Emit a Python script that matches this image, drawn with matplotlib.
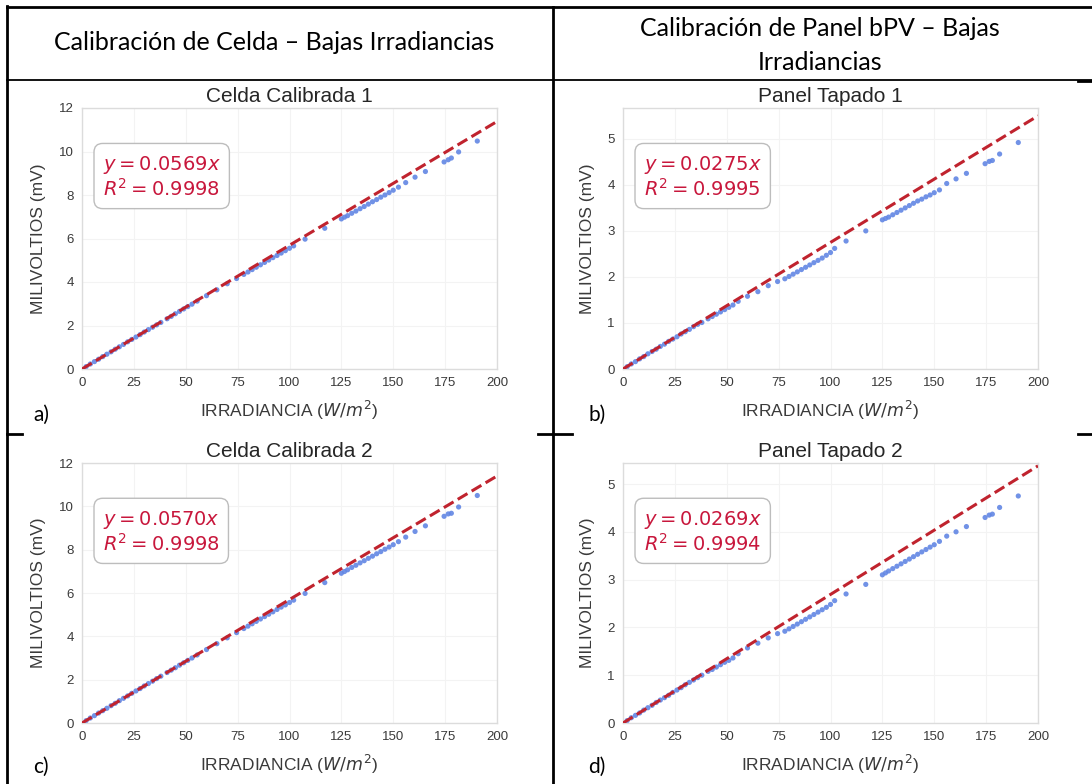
import matplotlib.pyplot as plt
from matplotlib.lines import Line2D

# irradiance (W/m2), same sampling for the four panels
irr = [2, 4, 6, 8, 10, 12, 14, 16, 18, 20, 22, 24, 26, 28, 30, 32, 34, 36, 38,
       41, 43, 45, 47, 49, 51, 53, 55.5, 60, 65, 70, 74.5, 78, 80, 82, 84, 86,
       88, 90, 92, 94, 96, 98, 100, 102, 107.5, 117, 125, 126.5, 128, 130, 132,
       134, 136, 138, 140, 142, 144, 146, 148, 150, 152.5, 156, 160.5, 165.5,
       174.5, 176.5, 178, 181.5, 190.5]

celda1 = [0.11, 0.23, 0.34, 0.45, 0.57, 0.68, 0.79, 0.91, 1.02, 1.13, 1.25, 1.36,
          1.47, 1.58, 1.70, 1.81, 1.92, 2.03, 2.14, 2.31, 2.42, 2.54, 2.65, 2.76,
          2.87, 2.98, 3.12, 3.37, 3.64, 3.92, 4.16, 4.35, 4.46, 4.57, 4.68, 4.79,
          4.90, 5.01, 5.12, 5.22, 5.33, 5.44, 5.55, 5.66, 5.97, 6.47, 6.90, 6.98,
          7.05, 7.16, 7.26, 7.37, 7.47, 7.58, 7.69, 7.79, 7.90, 8.00, 8.11, 8.22,
          8.36, 8.57, 8.82, 9.08, 9.52, 9.62, 9.70, 9.98, 10.48]

panel1 = [0.05, 0.11, 0.16, 0.22, 0.27, 0.33, 0.38, 0.43, 0.49, 0.54, 0.60, 0.65,
          0.70, 0.76, 0.81, 0.86, 0.92, 0.97, 1.01, 1.09, 1.14, 1.19, 1.24, 1.29,
          1.34, 1.39, 1.47, 1.58, 1.68, 1.81, 1.90, 1.96, 2.01, 2.06, 2.11, 2.16,
          2.21, 2.26, 2.31, 2.36, 2.41, 2.47, 2.53, 2.62, 2.78, 3.00, 3.24, 3.27,
          3.30, 3.35, 3.40, 3.45, 3.50, 3.55, 3.60, 3.65, 3.69, 3.74, 3.78, 3.83,
          3.89, 4.03, 4.13, 4.25, 4.46, 4.51, 4.53, 4.67, 4.92]

celda2 = [0.11, 0.23, 0.34, 0.46, 0.57, 0.68, 0.80, 0.91, 1.03, 1.14, 1.25, 1.37,
          1.48, 1.59, 1.71, 1.82, 1.93, 2.05, 2.16, 2.33, 2.44, 2.55, 2.67, 2.78,
          2.89, 3.00, 3.14, 3.39, 3.66, 3.93, 4.17, 4.36, 4.47, 4.58, 4.69, 4.80,
          4.91, 5.02, 5.13, 5.24, 5.35, 5.45, 5.56, 5.67, 5.98, 6.48, 6.91, 6.99,
          7.07, 7.18, 7.28, 7.39, 7.49, 7.60, 7.70, 7.81, 7.91, 8.02, 8.12, 8.23,
          8.37, 8.58, 8.84, 9.10, 9.54, 9.65, 9.68, 9.97, 10.50]

panel2 = [0.05, 0.11, 0.16, 0.21, 0.27, 0.32, 0.37, 0.43, 0.48, 0.53, 0.58, 0.64,
          0.69, 0.74, 0.80, 0.85, 0.90, 0.95, 1.00, 1.08, 1.12, 1.17, 1.22, 1.27,
          1.31, 1.36, 1.45, 1.57, 1.67, 1.78, 1.87, 1.92, 1.97, 2.02, 2.07, 2.12,
          2.17, 2.22, 2.27, 2.32, 2.37, 2.42, 2.48, 2.56, 2.70, 2.90, 3.10, 3.14,
          3.18, 3.23, 3.28, 3.33, 3.38, 3.43, 3.48, 3.53, 3.58, 3.63, 3.68, 3.73,
          3.80, 3.91, 4.00, 4.11, 4.30, 4.35, 4.37, 4.51, 4.75]

titles = ["Celda Calibrada 1", "Panel Tapado 1", "Celda Calibrada 2", "Panel Tapado 2"]
slopes = [0.0569, 0.0275, 0.0570, 0.0269]
r2 = [0.9998, 0.9995, 0.9998, 0.9994]
letters = ["a)", "b)", "c)", "d)"]
series = [celda1, panel1, celda2, panel2]

W, H = 1092, 784


def box(l, t, r, b):
    # pixel box -> figure fraction rect
    return [l / W, 1 - b / H, (r - l) / W, (b - t) / H]


fig = plt.figure(figsize=(W / 100, H / 100), dpi=100)
fig.patch.set_facecolor("white")

# table lines
def hline(y, x0, x1, lw=2):
    fig.add_artist(Line2D([x0 / W, x1 / W], [1 - y / H, 1 - y / H], color="black", lw=lw))


def vline(x, y0, y1, lw=2):
    fig.add_artist(Line2D([x / W, x / W], [1 - y0 / H, 1 - y1 / H], color="black", lw=lw))


hline(7, 7, 1092)
hline(80, 7, 1092, lw=1.3)
hline(81, 1078, 1092)
hline(434, 7, 22)
hline(434, 538, 572)
hline(434, 1078, 1092)
vline(7, 6, 784)
vline(553, 7, 784)

hdr = dict(family="Lato", fontsize=18, color="black", ha="center", va="center")
fig.text(274 / W, 1 - 43 / H, "Calibración de Celda – Bajas Irradiancias", **hdr)
fig.text(820 / W, 1 - 29 / H, "Calibración de Panel bPV – Bajas", **hdr)
fig.text(820 / W, 1 - 62 / H, "Irradiancias", **hdr)

rects = [box(82, 108, 497, 369), box(623, 108, 1038, 369),
         box(82, 463, 497, 723), box(623, 463, 1038, 723)]
ymax = [12, 5.67, 12, 5.44]
letter_pos = [(33, 415), (588, 415), (33, 767), (588, 767)]

for i in range(4):
    ax = fig.add_axes(rects[i])
    ax.set_facecolor("white")
    ax.grid(True, color="#f3f3f3", lw=0.8)
    ax.set_axisbelow(True)
    for s in ax.spines.values():
        s.set_color("#dcdcdc")
        s.set_linewidth(1)
    ax.scatter(irr, series[i], s=14, color="#6286e4", alpha=0.9, edgecolors="none", zorder=2)
    ax.plot([0, 200], [0, slopes[i] * 200], "--", color="#c0232e", lw=2.2, zorder=3)
    ax.set_xlim(0, 200)
    ax.set_ylim(0, ymax[i])
    ax.set_xticks([0, 25, 50, 75, 100, 125, 150, 175, 200])
    if ymax[i] > 10:
        ax.set_yticks([0, 2, 4, 6, 8, 10, 12])
    else:
        ax.set_yticks([0, 1, 2, 3, 4, 5])
    ax.tick_params(length=0, pad=6, labelsize=9.5, labelcolor="#3a3a3a")
    for lab in ax.get_xticklabels() + ax.get_yticklabels():
        lab.set_family("Liberation Sans")
    ax.set_title(titles[i], family="Liberation Sans", fontsize=15, color="#262626", pad=4)
    ax.set_xlabel("IRRADIANCIA ($W/m^2$)", family="Liberation Sans", fontsize=12.5,
                  color="#3a3a3a", labelpad=7)
    ax.set_ylabel("MILIVOLTIOS (mV)", family="Liberation Sans", fontsize=12.5,
                  color="#3a3a3a", labelpad=9)
    txt = "$y = %.4fx$\n$R^2 = %.4f$" % (slopes[i], r2[i])
    ax.text(0.05, 0.823, txt, transform=ax.transAxes, fontsize=14, color="#c8173c",
            va="top", ha="left", linespacing=1.1,
            bbox=dict(boxstyle="round,pad=0.45", fc="white", ec="#bdbdbd", lw=1))
    lx, ly = letter_pos[i]
    fig.text(lx / W, 1 - ly / H, letters[i], family="Lato", fontsize=15,
             color="black", va="center")

fig.savefig("out.png", dpi=100)
